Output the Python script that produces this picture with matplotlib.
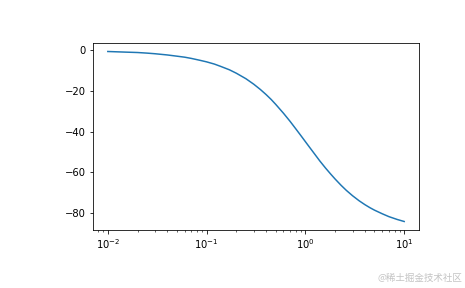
import matplotlib
matplotlib.use("Agg")
import matplotlib.pyplot as plt

# Values
freq = [0.01, 0.015, 0.02, 0.025, 0.03, 0.04, 0.05, 0.06, 0.07, 0.085, 0.1, 0.12, 0.14,
        0.17, 0.2, 0.25, 0.3, 0.35, 0.4, 0.45, 0.5, 0.6, 0.7, 0.8, 0.9, 1.0, 1.1, 1.25,
        1.4, 1.6, 1.8, 2.0, 2.3, 2.6, 3.0, 3.5, 4.0, 4.5, 5.0, 6.0, 7.0, 8.5, 10.0]
phase = [-0.6, -0.9, -1.1, -1.4, -1.7, -2.3, -2.9, -3.4, -4.0, -4.9, -5.7, -6.8, -8.0,
         -9.6, -11.3, -14.0, -16.7, -19.3, -21.8, -24.2, -26.6, -31.0, -35.0, -38.7,
         -42.0, -45.0, -47.7, -51.3, -54.5, -58.0, -60.9, -63.4, -66.5, -69.0, -71.6,
         -74.1, -76.0, -77.5, -78.7, -80.5, -81.9, -83.3, -84.3]

fig = plt.figure(figsize=(465 / 72, 288 / 72), dpi=72)
ax = fig.add_axes([93 / 465, 1 - 230 / 288, (419 - 93) / 465, (230 - 43) / 288])
ax.semilogx(freq, phase, color="#1f77b4", linewidth=1.5)
ax.tick_params(labelsize=10)

fig.text(462 / 465, 1 - 278 / 288, "@稀土掘金技术社区", ha="right", va="center",
         fontsize=9.5, color="#c4c4c4", family=["Noto Sans CJK SC", "DejaVu Sans"])

fig.savefig("out.png", dpi=72)
